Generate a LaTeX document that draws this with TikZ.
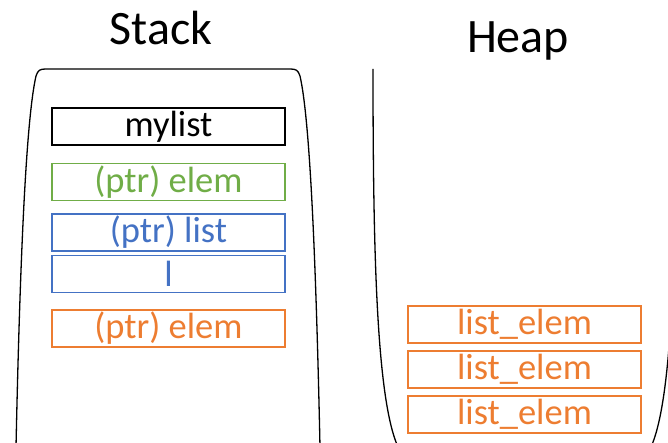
\documentclass[tikz,border=0pt]{standalone}
\usepackage{fontspec}
\setmainfont{Carlito}
\definecolor{offgreen}{HTML}{70AD47}
\definecolor{offblue}{HTML}{4472C4}
\definecolor{offorange}{HTML}{ED7D31}
\usetikzlibrary{positioning}

\begin{document}
\begin{tikzpicture}[x=1pt, y=-1pt,
    cell/.style={
      rectangle, draw, line width=1.6pt,
      minimum width=233pt, minimum height=37pt,
      inner sep=0pt, font=\fontsize{36.5}{36.5}\selectfont
    },
    title/.style={font=\fontsize{48}{48}\selectfont, inner sep=0pt, anchor=base},
    outline/.style={line width=1.3pt, black}
  ]
    \useasboundingbox (0,0) rectangle (668,443);
    \clip (0,0) rectangle (668,443);

    \node[title] (stacktitle) at (161,45) {Stack};
    \node[title] (heaptitle)  at (518,53) {Heap};

    % stack frame, open at the bottom
    \draw[outline] (16,447) .. controls (20,260) and (26,120) .. (36,76)
      .. controls (38,70) and (40,69) .. (46,69) -- (290,69)
      .. controls (296,69) and (298,70) .. (300,76)
      .. controls (310,120) and (316,260) .. (320,447);

    % heap, open at the top
    \draw[outline] (373,69) .. controls (373,260) and (377,400) .. (398,447);
    \draw[outline] (676,69) .. controls (676,260) and (672,400) .. (651,447);

    \node[cell, draw=black]                      (mylist) at (168.5,126.5) {mylist};
    \node[cell, draw=offgreen, text=offgreen]    (elem1)  at (168.5,182)   {(ptr) elem};
    \node[cell, draw=offblue, text=offblue]      (list)   at (168.5,232.5) {(ptr) list};
    \node[cell, draw=offblue, text=offblue]      (l)      at (168.5,274)   {l};
    \node[cell, draw=offorange, text=offorange]  (elem2)  at (168.5,328.5) {(ptr) elem};

    \node[cell, draw=offorange, text=offorange] (heap1) at (524.5,324.5) {list\_elem};
    \node[cell, draw=offorange, text=offorange] (heap2) at (524.5,369.5) {list\_elem};
    \node[cell, draw=offorange, text=offorange] (heap3) at (524.5,414.5) {list\_elem};
  \end{tikzpicture}
\end{document}
